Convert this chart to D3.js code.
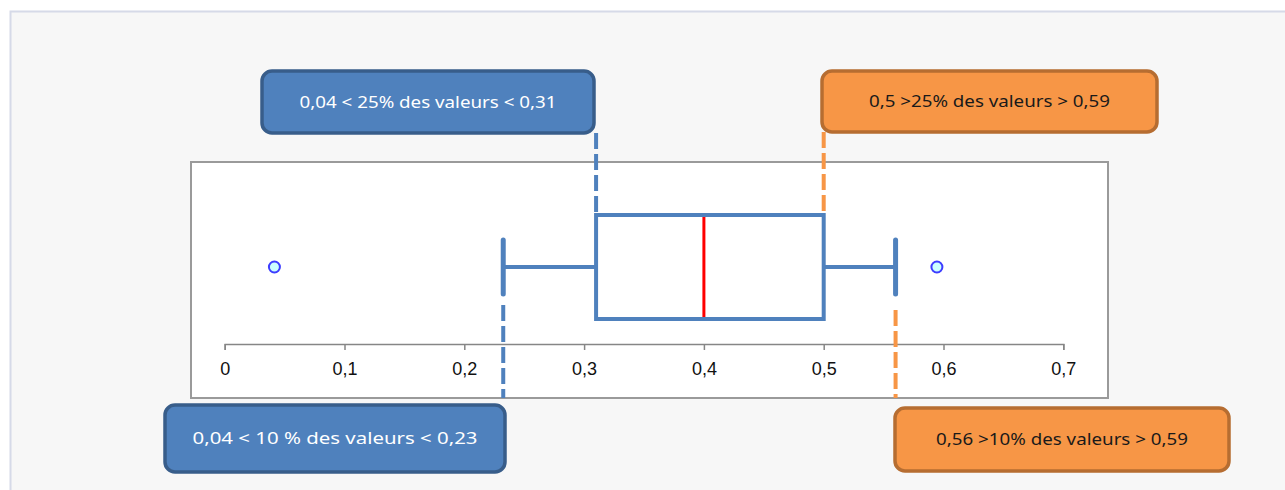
<!DOCTYPE html>
<html>
<head>
<meta charset="utf-8">
<script src="https://cdn.jsdelivr.net/npm/d3@7"></script>
<style>
  body { margin: 0; background: #fff; }
  svg { display: block; }
</style>
</head>
<body>
<svg id="chart"></svg>
<script>
// values
const axisTicks = [0, 0.1, 0.2, 0.3, 0.4, 0.5, 0.6, 0.7];
const whiskers = [0.2325, 0.56];
const quartiles = [0.31, 0.5];
const medianValue = [0.4];
const outliers = [0.0415, 0.5945];

// callouts: text + the value the dashed line points at
const calloutTexts = [
    "0,04 < 25% des valeurs < 0,31",
    "0,5 >25% des valeurs > 0,59",
    "0,04 < 10 % des valeurs < 0,23",
    "0,56 >10% des valeurs > 0,59"
];
const calloutValues = [0.31, 0.5, 0.2325, 0.56];
const calloutKinds = ["low", "high", "low", "high"];

const W = 1285, H = 490;
const svg = d3.select("#chart").attr("width", W).attr("height", H);

// grey panel behind everything
svg.append("rect")
    .attr("x", 10.5).attr("y", 11.5)
    .attr("width", 1300).attr("height", 500)
    .attr("fill", "#f7f7f7")
    .attr("stroke", "#d6dae8")
    .attr("stroke-width", 2);

// plot area
let plot = { left: 191, top: 162, right: 1108, bottom: 398 };
svg.append("rect")
    .attr("x", plot.left).attr("y", plot.top)
    .attr("width", plot.right - plot.left)
    .attr("height", plot.bottom - plot.top)
    .attr("fill", "#fff")
    .attr("stroke", "#9a9a9a")
    .attr("stroke-width", 2);

let x = d3.scaleLinear().domain([0, 0.7]).range([224.7, 1063.3]);
let y = d3.scaleBand().domain(["s"]).range([215, 319]);
let yMid = y("s") + y.bandwidth() / 2;

let frLocale = d3.formatLocale({ decimal: ",", thousands: " ", grouping: [3], currency: ["", " €"] });
let fmt = frLocale.format("~g");

let axisY = 344;
let gAxis = svg.append("g")
    .attr("transform", "translate(0," + axisY + ")")
    .call(d3.axisBottom(x).tickValues(axisTicks).tickSize(6).tickSizeOuter(6).tickPadding(12).tickFormat(fmt));

gAxis.select(".domain").attr("stroke", "#868686").attr("stroke-width", 1.5);
gAxis.selectAll(".tick line").attr("stroke", "#868686").attr("stroke-width", 1.5);
gAxis.selectAll(".tick text")
    .attr("fill", "#111")
    .style("font-family", "'Liberation Sans', Arial, sans-serif")
    .style("font-size", "18px");

// dashed connectors (drawn first so the box sits on top)
let calloutLayout = [
    { x: 262, y: 71, w: 332, h: 62, fs: 16, tl: 257, lineFrom: 133, lineTo: 215 },
    { x: 822, y: 71, w: 335, h: 61, fs: 16, tl: 241, lineFrom: 132, lineTo: 215 },
    { x: 165, y: 405, w: 340, h: 67, fs: 17, tl: 285, lineFrom: 305, lineTo: 398 },
    { x: 895, y: 408, w: 334, h: 63, fs: 16, tl: 252, lineFrom: 310, lineTo: 398 }
];
let kindStyle = {
    low:  { fill: "#4f81bd", stroke: "#385d8a", text: "#fff", dash: "#4f81bd" },
    high: { fill: "#f79646", stroke: "#b66d31", text: "#1a1a1a", dash: "#f79646" }
};

let callouts = calloutTexts.map(function(t, i) {
    return { text: t, value: calloutValues[i], kind: calloutKinds[i], lay: calloutLayout[i] };
});

svg.append("g").selectAll("line")
    .data(callouts)
    .enter().append("line")
    .attr("x1", function(d) { return x(d.value); })
    .attr("x2", function(d) { return x(d.value); })
    .attr("y1", function(d) { return d.lay.lineFrom; })
    .attr("y2", function(d) { return d.lay.lineTo; })
    .attr("stroke", function(d) { return kindStyle[d.kind].dash; })
    .attr("stroke-width", 4)
    .attr("stroke-dasharray", "16,5");

// box plot
let boxColor = "#4f81bd";
let gBox = svg.append("g");

// whisker lines
gBox.selectAll("line.whisker")
    .data([[whiskers[0], quartiles[0]], [quartiles[1], whiskers[1]]])
    .enter().append("line")
    .attr("class", "whisker")
    .attr("x1", function(d) { return x(d[0]); })
    .attr("x2", function(d) { return x(d[1]); })
    .attr("y1", yMid).attr("y2", yMid)
    .attr("stroke", boxColor)
    .attr("stroke-width", 4);

// whisker caps
gBox.selectAll("line.cap")
    .data(whiskers)
    .enter().append("line")
    .attr("class", "cap")
    .attr("x1", function(d) { return x(d); })
    .attr("x2", function(d) { return x(d); })
    .attr("y1", yMid - 27).attr("y2", yMid + 27)
    .attr("stroke", boxColor)
    .attr("stroke-width", 5)
    .attr("stroke-linecap", "round");

gBox.append("rect")
    .attr("x", x(quartiles[0]))
    .attr("y", y("s"))
    .attr("width", x(quartiles[1]) - x(quartiles[0]))
    .attr("height", y.bandwidth())
    .attr("fill", "#fff")
    .attr("stroke", boxColor)
    .attr("stroke-width", 4);

gBox.selectAll("line.median")
    .data(medianValue)
    .enter().append("line")
    .attr("class", "median")
    .attr("x1", function(d) { return x(d); })
    .attr("x2", function(d) { return x(d); })
    .attr("y1", y("s") + 2).attr("y2", y("s") + y.bandwidth() - 2)
    .attr("stroke", "#ff0000")
    .attr("stroke-width", 3);

gBox.selectAll("circle")
    .data(outliers)
    .enter().append("circle")
    .attr("cx", function(d) { return x(d); })
    .attr("cy", yMid)
    .attr("r", 5.5)
    .attr("fill", "#ccffff")
    .attr("stroke", "#3d3dff")
    .attr("stroke-width", 2);

// callout boxes
let gCall = svg.append("g").selectAll("g")
    .data(callouts)
    .enter().append("g");

gCall.append("rect")
    .attr("x", function(d) { return d.lay.x; })
    .attr("y", function(d) { return d.lay.y; })
    .attr("width", function(d) { return d.lay.w; })
    .attr("height", function(d) { return d.lay.h; })
    .attr("rx", 10)
    .attr("fill", function(d) { return kindStyle[d.kind].fill; })
    .attr("stroke", function(d) { return kindStyle[d.kind].stroke; })
    .attr("stroke-width", 3.5);

gCall.append("text")
    .attr("x", function(d) { return d.lay.x + d.lay.w / 2; })
    .attr("y", function(d) { return d.lay.y + d.lay.h / 2; })
    .attr("dy", "0.35em")
    .attr("text-anchor", "middle")
    .attr("textLength", function(d) { return d.lay.tl; })
    .attr("lengthAdjust", "spacingAndGlyphs")
    .attr("fill", function(d) { return kindStyle[d.kind].text; })
    .style("font-family", "'Noto Sans', 'Open Sans', sans-serif")
    .style("font-size", function(d) { return d.lay.fs + "px"; })
    .text(function(d) { return d.text; });
</script>
</body>
</html>
